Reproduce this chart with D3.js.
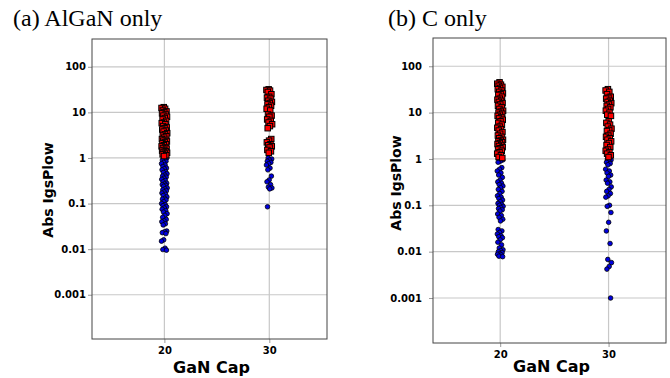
<!DOCTYPE html>
<html>
<head>
<meta charset="utf-8">
<script src="https://cdn.jsdelivr.net/npm/d3@7"></script>
<style>
    body { margin: 0; background: #fff; }
    .tick text { font-family: "DejaVu Sans", sans-serif; font-weight: bold; font-size: 10px; fill: #000; }
    .tick line { stroke: #999; }
    .domain { display: none; }
    .grid line { stroke: #c8c8c8; stroke-width: 1.2; }
    .frame { fill: none; stroke: #444; stroke-width: 1; }
    .axis-title { font-family: "DejaVu Sans", sans-serif; font-weight: bold; }
    .panel-title { font-family: "Liberation Serif", "Times New Roman", serif; font-size: 24px; }
    .red { fill: #ff0000; stroke: #000; stroke-width: 1; }
    .blue { fill: #0000e0; stroke: #000; stroke-width: 0.8; }
</style>
</head>
<body>
<svg></svg>
<script>
window.onload = function () {

    // tick values / labels
    var yTicks = [0.001, 0.01, 0.1, 1, 10, 100];
    var yTickLabels = ["0.001", "0.01", "0.1", "1", "10", "100"];
    var xTicks = [20, 30];
    var xTickLabels = ["20", "30"];

    // (a) AlGaN only - Abs IgsPlow values
    var aRed20 = [13, 12.5, 12, 11, 10.5, 10, 9.5, 9, 8.5, 8, 7.5, 7, 6.5, 6, 5.8, 5.5, 5, 4.7, 4.5, 4.2,
        4, 3.8, 3.5, 3.3, 3.1, 3, 2.8, 2.6, 2.5, 2.4, 2.3, 2.2, 2.1, 2, 1.9, 1.8, 1.7, 1.65, 1.6, 1.5,
        1.45, 1.4, 1.35, 1.3, 1.25, 1.2, 1.15, 1.1];
    var aBlue20 = [1.1, 1.0, 0.95, 0.9, 0.85, 0.8, 0.75, 0.7, 0.65, 0.6, 0.58, 0.55, 0.5, 0.48, 0.45, 0.42,
        0.4, 0.38, 0.36, 0.34, 0.32, 0.3, 0.28, 0.27, 0.26, 0.25, 0.24, 0.22, 0.21, 0.2, 0.19, 0.18, 0.17,
        0.16, 0.15, 0.14, 0.13, 0.125, 0.12, 0.11, 0.1, 0.095, 0.09, 0.085, 0.08, 0.075, 0.07, 0.065, 0.06,
        0.055, 0.05, 0.045, 0.042, 0.04, 0.036, 0.034, 0.025, 0.024, 0.023, 0.022, 0.016, 0.015, 0.0105,
        0.0098, 0.0095];
    var aRed30 = [32, 31, 30, 28, 25, 22, 21, 20, 18, 17, 16, 15, 14, 13, 12, 11, 9, 8.5, 8, 7, 6.5, 6,
        5.5, 5, 4.5, 2.6, 2.4, 2.2, 2, 1.9, 1.8, 1.7, 1.5, 1.4, 1.3];
    var aBlue30 = [1.0, 0.95, 0.9, 0.85, 0.8, 0.75, 0.7, 0.6, 0.55, 0.4, 0.33, 0.3, 0.26, 0.23, 0.22, 0.21, 0.085];

    // (b) C only
    var bRed20 = [45, 42, 40, 38, 36, 34, 32, 30, 28, 26, 25, 24, 22, 20, 19, 18, 17, 16, 15, 14, 13, 12,
        11, 10.5, 10, 9.5, 9, 8.5, 8, 7.5, 7, 6.5, 6, 5.5, 5, 4.7, 4.4, 4.1, 3.8, 3.5, 3.2, 3, 2.8, 2.6,
        2.5, 2.4, 2.3, 2.2, 2.1, 2, 1.9, 1.8, 1.7, 1.6, 1.5, 1.4, 1.3, 1.2, 1.1, 1.05];
    var bBlue20 = [1.0, 0.95, 0.9, 0.85, 0.65, 0.6, 0.55, 0.5, 0.45, 0.4, 0.35, 0.32, 0.3, 0.28, 0.26, 0.24,
        0.22, 0.2, 0.18, 0.16, 0.15, 0.14, 0.13, 0.12, 0.11, 0.105, 0.1, 0.095, 0.09, 0.085, 0.08, 0.075,
        0.065, 0.06, 0.055, 0.05, 0.046, 0.03, 0.028, 0.026, 0.024, 0.022, 0.021, 0.02, 0.018, 0.016, 0.014,
        0.012, 0.011, 0.0105, 0.01, 0.0095, 0.009, 0.0088, 0.0085, 0.008, 0.0078];
    var bRed30 = [32, 30, 28, 25, 22, 21, 20, 18, 17, 16, 15, 14, 13, 12, 11, 10, 9, 8.5, 6.5, 6, 5.5, 5,
        4.5, 4.2, 4, 3.5, 3.2, 3, 2.8, 2.6, 2.4, 2.2, 2, 1.8, 1.6, 1.5, 1.4, 1.3, 1.2, 1.1];
    var bBlue30 = [1.0, 0.95, 0.9, 0.85, 0.8, 0.75, 0.6, 0.55, 0.5, 0.45, 0.42, 0.35, 0.32, 0.3, 0.25, 0.22,
        0.2, 0.18, 0.16, 0.15, 0.1, 0.095, 0.07, 0.043, 0.028, 0.015, 0.0068, 0.0058, 0.0048, 0.0042, 0.001];

    var width = 670, height = 378;
    var svg = d3.select("svg").attr("width", width).attr("height", height);

    var panels = [
        { title: "(a) AlGaN only", titleX: 13, left: 92, right: 327, top: 39, bottom: 339,
          xDomain: [13.1, 35.5], labelPad: 2, yTitleX: 48, yTitleY: 190, xTitleY: 373,
          groups: [{ cap: 20, blue: aBlue20, red: aRed20 }, { cap: 30, blue: aBlue30, red: aRed30 }] },
        { title: "(b) C only", titleX: 388, left: 433, right: 666, top: 38, bottom: 343,
          xDomain: [13.8, 35.3], labelPad: 7, yTitleX: 396, yTitleY: 183, xTitleY: 372,
          groups: [{ cap: 20, blue: bBlue20, red: bRed20 }, { cap: 30, blue: bBlue30, red: bRed30 }] }
    ];

    // sideways spread (layout only): golden-ratio sequence so neighbours don't line up
    var jitter = function (i) { return ((i * 0.6180339887 + 0.3) % 1 - 0.5) * 0.55; };

    panels.forEach(function (p) {
        var g = svg.append("g");

        var x = d3.scaleLinear().domain(p.xDomain).range([p.left, p.right]);
        var y = d3.scaleLog().domain([1.07e-4, 407]).range([p.bottom, p.top]);

        // grid
        var grid = g.append("g").attr("class", "grid");
        grid.selectAll(".h").data(yTicks).enter().append("line")
            .attr("x1", p.left).attr("x2", p.right)
            .attr("y1", function (d) { return y(d); }).attr("y2", function (d) { return y(d); });
        grid.selectAll(".v").data(xTicks).enter().append("line")
            .attr("y1", p.top).attr("y2", p.bottom)
            .attr("x1", function (d) { return x(d); }).attr("x2", function (d) { return x(d); });

        // axes
        g.append("g")
            .attr("transform", "translate(" + p.left + ",0)")
            .call(d3.axisLeft(y).tickValues(yTicks).tickSize(4).tickPadding(p.labelPad)
                .tickFormat(function (d, i) { return yTickLabels[i]; }));
        g.append("g")
            .attr("transform", "translate(0," + p.bottom + ")")
            .call(d3.axisBottom(x).tickValues(xTicks).tickSize(4).tickPadding(4)
                .tickFormat(function (d, i) { return xTickLabels[i]; }));

        // points
        p.groups.forEach(function (grp) {
            g.selectAll(null).data(grp.blue).enter().append("circle")
                .attr("class", "blue")
                .attr("cx", function (d, i) { return x(grp.cap + jitter(i)); })
                .attr("cy", function (d) { return y(d); })
                .attr("r", 2.3);
            g.selectAll(null).data(grp.red).enter().append("rect")
                .attr("class", "red")
                .attr("x", function (d, i) { return x(grp.cap + jitter(i + 5)) - 2.75; })
                .attr("y", function (d) { return y(d) - 2.75; })
                .attr("width", 5.5).attr("height", 5.5);
        });

        // frame
        g.append("rect").attr("class", "frame")
            .attr("x", p.left).attr("y", p.top)
            .attr("width", p.right - p.left).attr("height", p.bottom - p.top);

        // titles
        g.append("text").attr("class", "axis-title")
            .attr("transform", "translate(" + p.yTitleX + "," + p.yTitleY + ") rotate(-90)")
            .attr("text-anchor", "middle").attr("dy", "0.35em")
            .style("font-size", "14px")
            .text("Abs IgsPlow");
        g.append("text").attr("class", "axis-title")
            .attr("x", (p.left + p.right) / 2 + 2).attr("y", p.xTitleY)
            .attr("text-anchor", "middle")
            .style("font-size", "16px")
            .text("GaN Cap");
        g.append("text").attr("class", "panel-title")
            .attr("x", p.titleX).attr("y", 26)
            .text(p.title);
    });
};
</script>
</body>
</html>
